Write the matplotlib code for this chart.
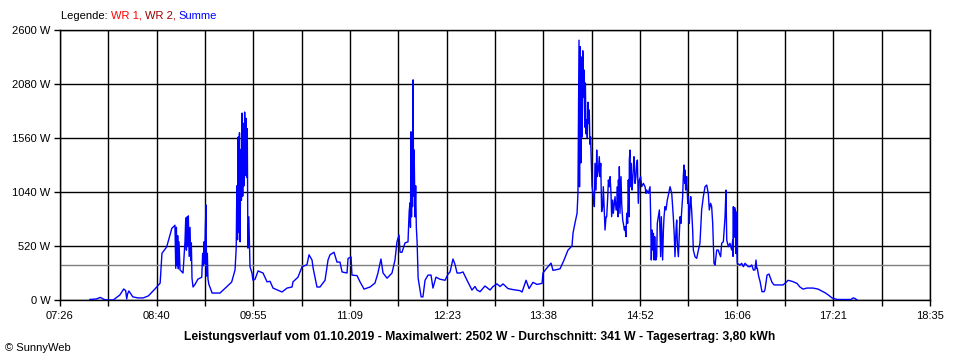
import numpy as np
import matplotlib
matplotlib.use("Agg")
import matplotlib.pyplot as plt

# time in minutes after midnight, power in W (Summe)
t_morning = [469, 474, 477, 480, 483, 487, 488.5, 492, 495, 496.5, 497.3, 498, 499, 502, 506, 510, 514,
             519, 523, 524.4, 528, 532, 534.4, 535, 535.5, 536, 536.5, 537, 537.5, 538.3, 540.6, 541.5,
             542.1, 542.7, 543.2, 543.7, 544.2, 544.7, 545.3, 546, 546.5, 547, 547.5, 548.3, 549.8, 552,
             555, 555.7, 556.3, 556.7, 557.2, 557.8, 558.3, 558.7, 559.3, 559.8, 560.5, 563, 569, 574,
             578, 580.6, 581.5, 582, 582.5, 583, 583.5, 584, 584.5, 585, 585.5, 586, 586.5, 587, 587.5,
             588, 588.5, 589, 589.5, 590, 590.5, 591.2, 592.1, 593.6, 594.4, 596, 598.3]
w_morning = [5, 10, 25, 5, 0, 0, 15, 48, 106, 90, 10, 60, 87, 30, 20, 20, 40,
             106, 163, 450, 510, 690, 720, 305, 700, 330, 620, 300, 560, 290, 260, 450,
             560, 790, 480, 800, 520, 810, 420, 700, 380, 550, 210, 125, 150, 200,
             220, 450, 330, 560, 350, 700, 915, 230, 450, 200, 150, 67, 67, 125,
             173, 290, 500, 1100, 580, 1570, 650, 1610, 560, 1450, 960, 1800, 1000, 1700, 1100,
             1810, 1200, 1750, 1180, 1650, 500, 800, 320, 260, 190, 200, 280]

t_midday = [602.1, 605.2, 607.5, 609.8, 616.7, 620.6, 624.4, 625.2, 629, 632.1, 635.9, 637.5, 639.8,
            640.6, 643.6, 645.9, 649.8, 652.1, 653.6, 656.7, 659, 661.3, 662.9, 666.7, 667.5, 669.8,
            670.5, 674.4, 676.7, 679.8, 684.4, 688.2, 690.5, 692.8, 694.4, 697.5, 701.3, 703.6, 705.1,
            706.7, 707.5, 709, 711.3, 713.6, 714.5, 715.1, 715.5, 715.9, 716.3, 716.7, 717.1, 717.5,
            717.9, 718.3, 719, 719.5, 720, 720.6, 721.4, 723.7, 725.1, 726.7, 729, 731.3, 732.8, 735.1,
            738.2, 742.1, 744.4, 745.9, 748.2, 749.8, 751.3, 753.6, 755.9, 759, 762.8, 765.1, 766.7,
            769, 772.8, 776.7, 779, 782, 784.4, 786.7, 790.5, 794.4, 799.7, 801.3, 804.4, 806.7, 809.7,
            812.8, 816.7, 817.4, 820.5, 823.6, 825.1, 830.5, 833.6, 836.6, 839.7, 840.5, 842, 843.6, 844.3]
w_midday = [260, 175, 180, 115, 77, 115, 125, 175, 220, 320, 340, 435, 385,
            310, 125, 125, 190, 385, 435, 460, 365, 365, 270, 260, 400, 415,
            240, 235, 175, 105, 125, 163, 260, 395, 260, 210, 260, 385, 560,
            625, 460, 460, 550, 560, 850, 935, 700, 1620, 800, 1300, 900, 2120,
            1000, 1445, 800, 1100, 700, 560, 210, 30, 30, 190, 240, 240, 115, 220,
            200, 190, 250, 270, 395, 340, 260, 260, 270, 190, 96, 130, 96,
            80, 135, 96, 130, 155, 130, 155, 110, 100, 90, 77, 190, 110, 170,
            150, 160, 260, 310, 355, 285, 300, 385, 480, 520, 645, 740, 835, 1030]

t_afternoon = [845.1, 845.5, 846, 846.5, 847, 847.5, 848, 848.5, 849, 849.5, 850, 850.5, 851, 851.5,
               852, 852.5, 853, 853.5, 854, 854.5, 855.1, 856.1, 856.9, 857.4, 858.2, 858.7, 859.2,
               860.0, 860.7, 861.3, 861.8, 862.5, 863.3, 863.8, 864.6, 865.1, 865.9, 866.4, 867.2,
               867.7, 868.4, 869.0, 869.7, 870.2, 871.0, 871.5, 872.3, 872.8, 873.6, 874.1, 874.6,
               875.1, 875.4, 875.9, 876.1, 876.6, 877.1, 877.4, 877.9, 878.7, 879.2, 880.0, 880.5,
               881.2, 881.8, 882.5, 883.0, 883.6, 883.8, 884.3, 884.8, 885.1, 885.9, 886.4, 886.9,
               887.4, 888.2, 888.9, 889.4, 890.0, 890.7, 891.5, 892.5, 893.3, 894.6, 895.9, 896.6,
               897.1, 898.4, 899.7, 900.2, 900.7, 901.2, 901.8, 902.3, 902.8, 903.3, 903.5, 904.1,
               904.8, 905.3, 906.1, 906.9, 907.4, 907.9, 908.4, 908.7, 909.4, 910.0, 910.5, 911.2,
               912.0, 913.0, 914.1, 915.1]
w_afternoon = [2502, 1090, 2440, 1320, 2340, 1570, 2400, 1955, 2215, 1665, 2090, 1600, 1735, 1560,
               1905, 1700, 1830, 1500, 1570, 1370, 1100, 995, 899, 1316, 1059, 1444, 1188,
               1252, 1380, 1188, 1316, 851, 899, 1091, 819, 674, 802, 802, 995,
               1156, 1091, 1188, 1027, 802, 963, 835, 931, 995, 867, 867, 1091,
               802, 1156, 899, 1284, 835, 1059, 1188, 931, 770, 738, 674, 706,
               610, 835, 738, 1156, 802, 1348, 1444, 1091, 1316, 1059, 1156, 1284,
               1380, 1123, 1188, 1316, 1348, 931, 1156, 1188, 1091, 1123, 1091, 1027,
               1059, 1027, 1091, 802, 385, 674, 481, 642, 385, 610, 546, 385,
               417, 738, 802, 867, 642, 417, 802, 674, 385, 674, 802, 899,
               867, 963, 1027, 1091]

t_evening = [916.4, 917.6, 918.4, 918.9, 919.7, 920.2, 920.7, 921.5, 922.3, 922.8, 923.5, 924.1,
             924.8, 925.3, 925.8, 926.4, 926.6, 927.1, 927.4, 927.9, 928.7, 929.2, 929.9, 930.5,
             931.0, 931.7, 932.5, 933.0, 934.3, 935.6, 936.9, 938.1, 939.4, 940.7, 942.0, 943.3,
             944.5, 945.3, 946.3, 947.1, 947.9, 948.4, 948.9, 949.7, 951.0, 952.2, 953.0, 954.0,
             954.8, 956.1, 957.4, 958.1, 958.7, 959.9, 961.2, 962.5, 963.3, 963.5, 963.8, 964.0,
             964.3, 964.5, 964.8, 965.1, 965.3, 965.6, 965.8, 966.1, 966.3, 966.6, 966.8, 968.9,
             970.2, 971.5, 972.7, 974.0, 975.3, 976.6, 977.9, 979.2, 980.4, 981.2, 981.7, 982.2,
             983.3, 984.3, 985.8, 987.4, 988.1, 989.7, 991.2, 993.5, 995.1, 997.4, 1002, 1004.3,
             1005.9, 1008.9, 1012.7, 1015, 1017.4, 1020.4, 1025, 1028.9, 1032, 1034.3, 1036.6,
             1039.7, 1043.5, 1049.6, 1054.3, 1055.8, 1057.3, 1058.9]
w_evening = [1027, 802, 610, 417, 674, 770, 546, 417, 642, 802, 738, 867,
             995, 1188, 1300, 1123, 1252, 1059, 1091, 1188, 931, 995, 738, 899,
             995, 867, 674, 481, 417, 401, 481, 546, 867, 995, 1091, 1107,
             1027, 867, 931, 899, 738, 546, 353, 337, 481, 481, 449, 417,
             546, 562, 802, 1059, 578, 514, 546, 481, 578, 420, 899, 600,
             880, 610, 890, 700, 870, 449, 850, 640, 835, 420, 353, 337,
             353, 321, 353, 337, 321, 321, 337, 289, 289, 385, 305, 305,
             225, 180, 80, 80, 100, 240, 250, 170, 145, 145, 145, 170,
             190, 180, 160, 125, 105, 115, 115, 105, 85, 70, 50,
             20, 5, 5, 5, 20, 15, 0]

minutes = np.array(t_morning + t_midday + t_afternoon + t_evening)
watts = np.array(w_morning + w_midday + w_afternoon + w_evening)

average_w = 341
x_ticks = np.linspace(446, 1115, 19)   # 07:26 .. 18:35
x_labels = ["07:26", "", "08:40", "", "09:55", "", "11:09", "", "12:23", "",
            "13:38", "", "14:52", "", "16:06", "", "17:21", "", "18:35"]
y_ticks = [0, 520, 1040, 1560, 2080, 2600]
y_labels = ["0 W", "520 W", "1040 W", "1560 W", "2080 W", "2600 W"]
legend_parts = [("Legende: ", "black"), ("WR 1, ", "#ff0000"), ("WR 2, ", "#990000"), ("Summe", "#0000ff")]
title = ("Leistungsverlauf vom 01.10.2019 - Maximalwert: 2502 W - Durchschnitt: 341 W"
         " - Tagesertrag: 3,80 kWh")

plt.rcParams['font.family'] = ['Liberation Sans', 'DejaVu Sans']
plt.rcParams['font.size'] = 8

fig = plt.figure(figsize=(9.6, 3.6), dpi=100)
ax = fig.add_axes([60 / 960, 60 / 360, 870 / 960, 270 / 360])

ax.set_xlim(x_ticks[0], x_ticks[-1])
ax.set_ylim(0, 2600)
ax.set_xticks(x_ticks)
ax.set_xticklabels(x_labels)
ax.set_yticks(y_ticks)
ax.set_yticklabels(y_labels)
ax.grid(True, color="black", linewidth=1.0)
ax.axhline(average_w, color="#808080", linewidth=1.0, zorder=2)
ax.plot(minutes, watts, color="#0000ff", linewidth=1.0, zorder=3)

for s in ax.spines.values():
    s.set_color("black")
    s.set_linewidth(1.0)
ax.tick_params(axis="both", direction="out", length=4, width=1.0, color="black", labelsize=8)
ax.tick_params(axis="x", pad=4)
ax.tick_params(axis="y", pad=3)

# legend line on top, parts placed one after another
renderer = fig.canvas.get_renderer()
xpos = 61
for txt, col in legend_parts:
    t = fig.text(xpos / 960, 1 - 16 / 360, txt, color=col, fontsize=8, ha="left", va="center")
    xpos += t.get_window_extent(renderer).width

fig.text(0.5, 1 - 337 / 360, title, fontsize=8.7, fontweight="bold", ha="center", va="center")
fig.text(5 / 960, 1 - 348 / 360, "\u00a9 SunnyWeb", fontsize=8, ha="left", va="center")

fig.savefig("out.png", dpi=100, facecolor="white")
